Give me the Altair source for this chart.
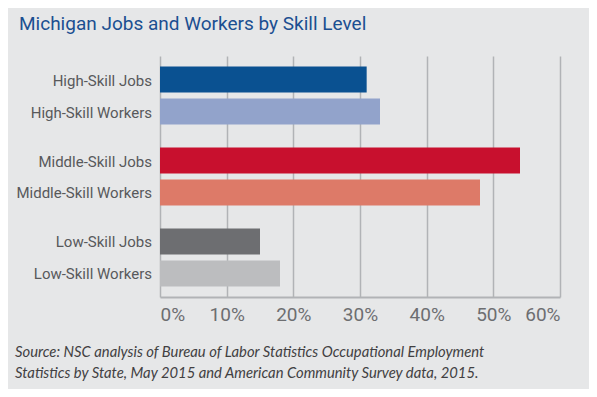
import altair as alt
import pandas as pd

groups = ["High", "High", "Middle", "Middle", "Low", "Low"]
kinds = ["Jobs", "Workers", "Jobs", "Workers", "Jobs", "Workers"]
labels = ["High-Skill Jobs", "High-Skill Workers", "Middle-Skill Jobs",
          "Middle-Skill Workers", "Low-Skill Jobs", "Low-Skill Workers"]
values = [31, 33, 54, 48, 15, 18]
colors = ["#0a5191", "#92a3cb", "#c8102e", "#dd7a68", "#6d6e71", "#bcbdbf"]
ticks = [0, 0.1, 0.2, 0.3, 0.4, 0.5, 0.6]
title_text = "Michigan Jobs and Workers by Skill Level"
source_line1 = "Source: NSC analysis of Bureau of Labor Statistics Occupational Employment"
source_line2 = "Statistics by State, May 2015 and American Community Survey data, 2015."

df = pd.DataFrame({"group": groups, "kind": kinds, "label": labels,
                   "value": [v / 100 for v in values]})

NARROW = "Roboto"

yenc = alt.Y("group:N", sort=["High", "Middle", "Low"],
             scale=alt.Scale(paddingInner=0.21, paddingOuter=0.093), axis=None)
yoff = alt.YOffset("kind:N", sort=["Jobs", "Workers"],
                   scale=alt.Scale(paddingInner=0.1875, paddingOuter=0.094))

base = alt.Chart(df)

bars = base.mark_bar().encode(
    x=alt.X("value:Q", scale=alt.Scale(domain=[0, 0.6], nice=False),
            axis=alt.Axis(format=".0%", values=ticks, title=None, grid=True,
                          gridColor="#b1b3b6", gridWidth=1.5, ticks=False,
                          domainColor="#b1b3b6", domainWidth=2,
                          labelFont=NARROW, labelFontSize=19, labelColor="#6d6e71",
                          labelPadding=8)),
    y=yenc,
    yOffset=yoff,
    color=alt.Color("label:N", scale=alt.Scale(domain=labels, range=colors), legend=None),
)

lbls = base.mark_text(align="right", baseline="middle", font=NARROW, fontSize=15,
                      color="#58595b", dy=1).encode(
    x=alt.value(-8),
    y=yenc,
    yOffset=yoff,
    text="label:N",
)

title_df = pd.DataFrame({"t": [title_text]})
title = alt.Chart(title_df).mark_text(align="left", baseline="alphabetic", font=NARROW,
                                      fontSize=19, color="#1b4f91").encode(
    x=alt.value(-141), y=alt.value(-26), text="t:N")

src1 = alt.Chart(pd.DataFrame({"t": [source_line1]})).mark_text(
    align="left", baseline="alphabetic", font="Lato", fontStyle="italic",
    fontSize=14.8, color="#414042").encode(x=alt.value(-145), y=alt.value(301), text="t:N")
src2 = alt.Chart(pd.DataFrame({"t": [source_line2]})).mark_text(
    align="left", baseline="alphabetic", font="Lato", fontStyle="italic",
    fontSize=14.8, color="#414042").encode(x=alt.value(-145), y=alt.value(322), text="t:N")

chart = alt.layer(bars, lbls, title, src1, src2).properties(
    width=400, height=241,
    autosize=alt.AutoSizeParams(type="none"),
    padding={"left": 152, "top": 48, "right": 29, "bottom": 92},
    background="#e6e7e8",
).configure_view(stroke=None)

chart.save("out.html", embed_options={"renderer": "svg", "actions": False})
